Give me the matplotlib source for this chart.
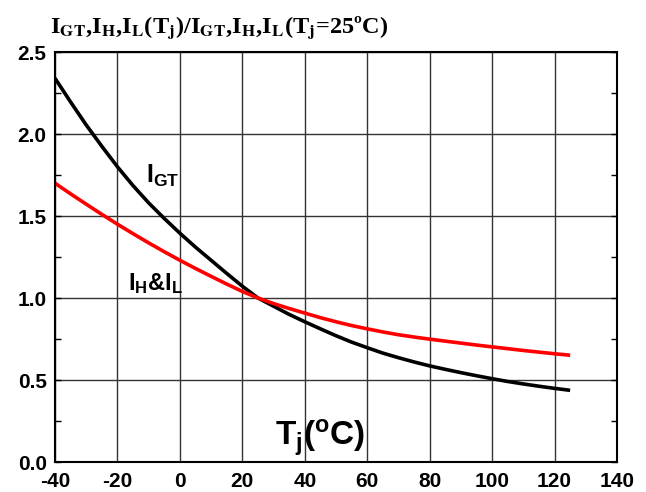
import numpy as np
import matplotlib
matplotlib.use("Agg")
import matplotlib.pyplot as plt
from matplotlib.ticker import MultipleLocator

# junction temperature (deg C)
tj = [-40, -35, -30, -25, -20, -15, -10, -5, 0, 5, 10, 15, 20, 25, 30, 35, 40,
      45, 50, 55, 60, 65, 70, 75, 80, 85, 90, 95, 100, 105, 110, 115, 120, 125]
# normalised gate trigger current
igt = [2.34, 2.195, 2.055, 1.925, 1.80, 1.685, 1.58, 1.485, 1.395, 1.31, 1.23, 1.15,
       1.072, 1.00, 0.95, 0.90, 0.855, 0.812, 0.77, 0.731, 0.697, 0.664, 0.636, 0.61,
       0.586, 0.565, 0.545, 0.526, 0.508, 0.491, 0.476, 0.462, 0.449, 0.437]
# normalised holding / latching current
ih_il = [1.70, 1.635, 1.572, 1.51, 1.45, 1.392, 1.336, 1.282, 1.23, 1.18, 1.132, 1.085,
         1.04, 1.00, 0.966, 0.936, 0.908, 0.88, 0.855, 0.832, 0.812, 0.793, 0.776, 0.762,
         0.749, 0.737, 0.725, 0.713, 0.702, 0.691, 0.68, 0.67, 0.66, 0.651]

xticks = [-40, -20, 0, 20, 40, 60, 80, 100, 120, 140]
yticks = [0.0, 0.5, 1.0, 1.5, 2.0, 2.5]

plt.rcParams.update({
    "font.family": "Liberation Sans",
    "font.weight": "bold",
    "axes.unicode_minus": False,
    "mathtext.fontset": "custom",
    "mathtext.rm": "Liberation Sans:bold",
    "mathtext.it": "Liberation Sans:bold",
    "mathtext.bf": "Liberation Sans:bold",
})

fig = plt.figure(figsize=(6.46, 4.92), dpi=100)
ax = fig.add_axes([55 / 646, 30 / 492, 562 / 646, 410 / 492])

ax.plot(tj, igt, color="black", lw=2.6, solid_capstyle="butt")
ax.plot(tj, ih_il, color="#ff0000", lw=2.6, solid_capstyle="butt")

ax.set_xlim(-40, 140)
ax.set_ylim(0, 2.5)
ax.set_xticks(xticks)
ax.set_yticks(yticks)
ax.set_xticklabels([f"{v}" for v in xticks])
ax.set_yticklabels([f"{v:.1f}" for v in yticks])
ax.yaxis.set_minor_locator(MultipleLocator(0.25))
ax.grid(True, which="major", color="#333333", lw=1.0)
ax.set_axisbelow(True)
for s in ax.spines.values():
    s.set_linewidth(1.5)

ax.tick_params(axis="x", length=0, pad=7, labelsize=15)
ax.tick_params(axis="y", which="both", direction="in", left=True, right=True,
               length=4, width=1, labelsize=15, pad=6)
for lab in ax.get_xticklabels() + ax.get_yticklabels():
    lab.set_fontweight("bold")

ax.text(-11, 1.70, r"I$_{GT}$", fontsize=18, fontweight="bold")
ax.text(-16.5, 1.05, r"I$_{H}$&I$_{L}$", fontsize=17, fontweight="bold")
ax.text(30.5, 0.10, r"T$_{j}$($^{o}$C)", fontsize=24, fontweight="bold")

fig.text(50 / 646, 1 - 33 / 492,
         r"I$_{\mathbf{GT}}$,I$_{\mathbf{H}}$,I$_{\mathbf{L}}$(T$_{\mathbf{j}}$)/"
         r"I$_{\mathbf{GT}}$,I$_{\mathbf{H}}$,I$_{\mathbf{L}}$(T$_{\mathbf{j}}$=25ºC)",
         fontsize=17.5, fontweight="bold", family="Liberation Serif",
         math_fontfamily="stix", va="baseline", ha="left")

fig.savefig("out.png", dpi=100)
